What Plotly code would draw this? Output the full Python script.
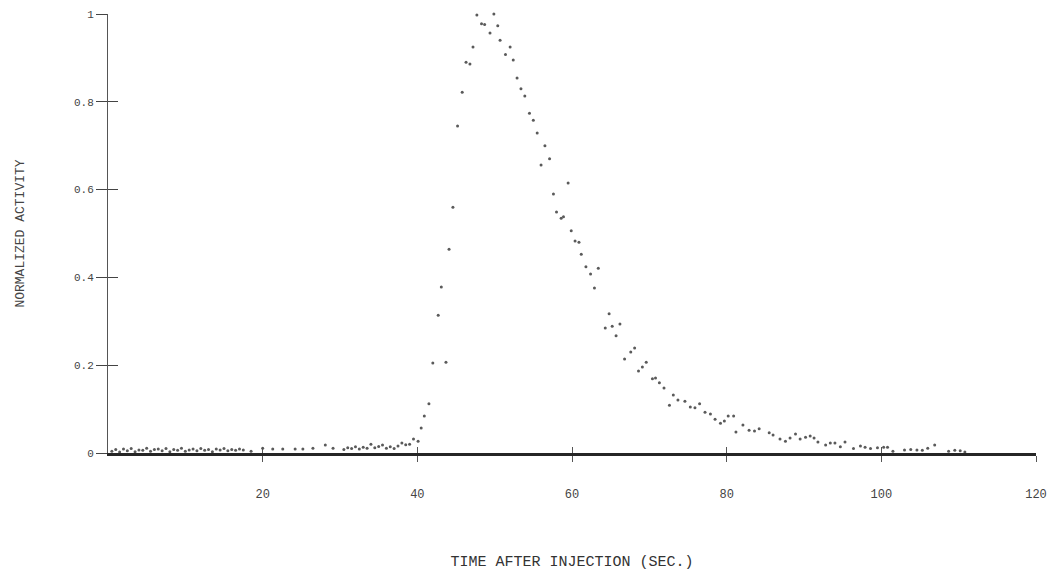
import plotly.graph_objects as go

# ---- data ----
time_s = [
    0.5, 1.0, 1.5, 2.0, 2.5, 3.0, 3.5, 4.0, 4.5, 5.0, 5.5, 6.0, 6.5, 7.0, 7.5, 8.0, 8.5, 9.0,
    9.5, 10.0, 10.5, 11.0, 11.5, 12.0, 12.5, 13.0, 13.5, 14.0, 14.5, 15.0, 15.5, 16.0, 16.5, 17.0, 17.5,
    18.5, 20.0, 21.3, 22.6, 24.2, 25.2, 26.5, 28.1, 29.1,
    30.5, 31.0, 31.5, 32.0, 32.5, 33.0, 33.5, 34.0, 34.5, 35.0, 35.5, 36.0, 36.5, 37.0, 37.5,
    38.0, 38.5, 39.0, 39.5, 40.1,
    40.5, 40.9, 41.5, 42.0, 42.7, 43.1, 43.7, 44.1, 44.6, 45.2, 45.8, 46.3, 46.8, 47.2, 47.7,
    48.3, 48.7, 49.4, 49.9, 50.4, 50.7, 51.4, 52.0, 52.4, 52.9, 53.4, 53.9, 54.5, 55.0, 55.5,
    56.0, 56.5, 57.1, 57.6, 58.0, 58.6, 58.9, 59.5, 59.9, 60.4, 60.9, 61.2, 61.8, 62.4, 62.9,
    63.4, 64.3, 64.8, 65.2, 65.7, 66.2, 66.8, 67.6, 68.1, 68.6, 69.1, 69.6, 70.4, 70.8, 71.3,
    71.9, 72.6, 73.1, 73.7, 74.6, 75.3, 75.9, 76.5, 77.2, 77.9, 78.5, 79.2, 79.7, 80.2, 80.9,
    81.2, 82.1, 82.9, 83.6, 84.2, 85.5, 86.0, 86.9, 87.6, 88.2, 88.9, 89.5, 90.2, 90.8, 91.3,
    91.8, 92.8, 93.4, 94.0, 94.7, 95.3, 96.4, 97.3, 97.9, 98.6, 99.5, 100.3, 100.8, 101.5,
    103.0, 103.8, 104.6, 105.3, 106.0, 106.9, 108.0, 108.7, 109.5, 110.2, 110.8,
]
activity = [
    0.004, 0.008, 0.002, 0.009, 0.005, 0.010, 0.003, 0.007, 0.006, 0.011, 0.004, 0.008, 0.009, 0.005,
    0.010, 0.003, 0.008, 0.006, 0.011, 0.004, 0.007, 0.009, 0.005, 0.010, 0.006, 0.008, 0.003, 0.009,
    0.007, 0.010, 0.005, 0.008, 0.006, 0.009, 0.007,
    0.004, 0.011, 0.009, 0.009, 0.009, 0.009, 0.011, 0.018, 0.011,
    0.008, 0.012, 0.010, 0.014, 0.009, 0.013, 0.011, 0.020, 0.012, 0.015, 0.018, 0.011, 0.014, 0.010,
    0.016, 0.023, 0.019, 0.020, 0.032, 0.027,
    0.057, 0.084, 0.112, 0.205, 0.314, 0.378, 0.207, 0.464, 0.560, 0.745, 0.822, 0.890, 0.886, 0.925,
    0.998, 0.978, 0.976, 0.957, 1.000, 0.973, 0.940, 0.908, 0.925, 0.895, 0.854, 0.830, 0.813, 0.774,
    0.758, 0.729, 0.656, 0.700, 0.670, 0.590, 0.549, 0.535, 0.538, 0.615, 0.506, 0.483, 0.480, 0.453,
    0.424, 0.408, 0.376, 0.421, 0.285, 0.317, 0.289, 0.267, 0.294, 0.214, 0.230, 0.239, 0.187, 0.196,
    0.207, 0.169, 0.171, 0.160, 0.148, 0.109, 0.132, 0.121, 0.118, 0.105, 0.103, 0.112, 0.093, 0.089,
    0.077, 0.068, 0.073, 0.084, 0.084, 0.048, 0.064, 0.052, 0.050, 0.055, 0.046, 0.041, 0.032, 0.027,
    0.034, 0.043, 0.032, 0.036, 0.039, 0.034, 0.025, 0.018, 0.023, 0.023, 0.014, 0.025, 0.010, 0.016,
    0.013, 0.010, 0.012, 0.013, 0.013, 0.004, 0.007, 0.008, 0.007, 0.006, 0.011, 0.018, -0.027,
    0.004, 0.006, 0.005, 0.002,
]

x_tick_values = [20, 40, 60, 80, 100, 120]
x_tick_labels = ["20", "40", "60", "80", "100", "120"]
y_tick_values = [0, 0.2, 0.4, 0.6, 0.8, 1.0]
y_tick_labels = ["0", "0.2", "0.4", "0.6", "0.8", "1"]

FONT = "Liberation Mono, DejaVu Sans Mono, monospace"
INK = "#3a3a3a"

fig = go.Figure()
fig.add_trace(go.Scatter(
    x=time_s, y=activity, mode="markers",
    marker=dict(size=3, color="#5a5a5a", line=dict(width=0)),
    cliponaxis=False, showlegend=False, hoverinfo="x+y",
))
# invisible trace on overlay axes so they render
fig.add_trace(go.Scatter(x=[x_tick_values[0]], y=[y_tick_values[0]], xaxis="x2", yaxis="y2",
                         mode="markers", marker=dict(opacity=0), showlegend=False, hoverinfo="skip"))

fig.update_layout(
    width=1053, height=576,
    margin=dict(l=108, r=17, t=14, b=123),
    paper_bgcolor="white", plot_bgcolor="white",
    font=dict(family=FONT, color=INK, size=11),
    xaxis=dict(
        range=[0, 120], showgrid=False, zeroline=False, automargin=False,
        showline=True, linecolor="#262626", linewidth=3,
        ticks="outside", ticklen=6, tickwidth=1, tickcolor="#555",
        tickvals=x_tick_values, ticktext=x_tick_labels,
        ticklabelstandoff=22,
        tickfont=dict(family=FONT, size=12, color="#444"),
        title=dict(text="TIME AFTER INJECTION (SEC.)",
                   font=dict(family=FONT, size=15, color="#333"), standoff=55),
    ),
    yaxis=dict(
        range=[0, 1.0], showgrid=False, zeroline=False, automargin=False,
        showline=True, linecolor="#555", linewidth=1,
        ticks="outside", ticklen=11, tickwidth=1.3, tickcolor="#444",
        tickvals=y_tick_values, ticktext=y_tick_labels,
        tickfont=dict(family=FONT, size=11, color="#444"),
        title=dict(text="NORMALIZED ACTIVITY",
                   font=dict(family=FONT, size=13, color="#444"), standoff=46),
    ),
    xaxis2=dict(
        overlaying="x", anchor="y2", side="bottom", range=[0, 120], matches="x",
        showgrid=False, zeroline=False, showline=False, showticklabels=False,
        ticks="inside", ticklen=6, tickwidth=1, tickcolor="#555",
        tickvals=x_tick_values,
    ),
    yaxis2=dict(
        overlaying="y", anchor="x2", side="left", range=[0, 1.0], matches="y",
        showgrid=False, zeroline=False, showline=False, showticklabels=False,
        ticks="inside", ticklen=10, tickwidth=1.3, tickcolor="#444",
        tickvals=y_tick_values,
    ),
)

fig.write_html("out.html")
